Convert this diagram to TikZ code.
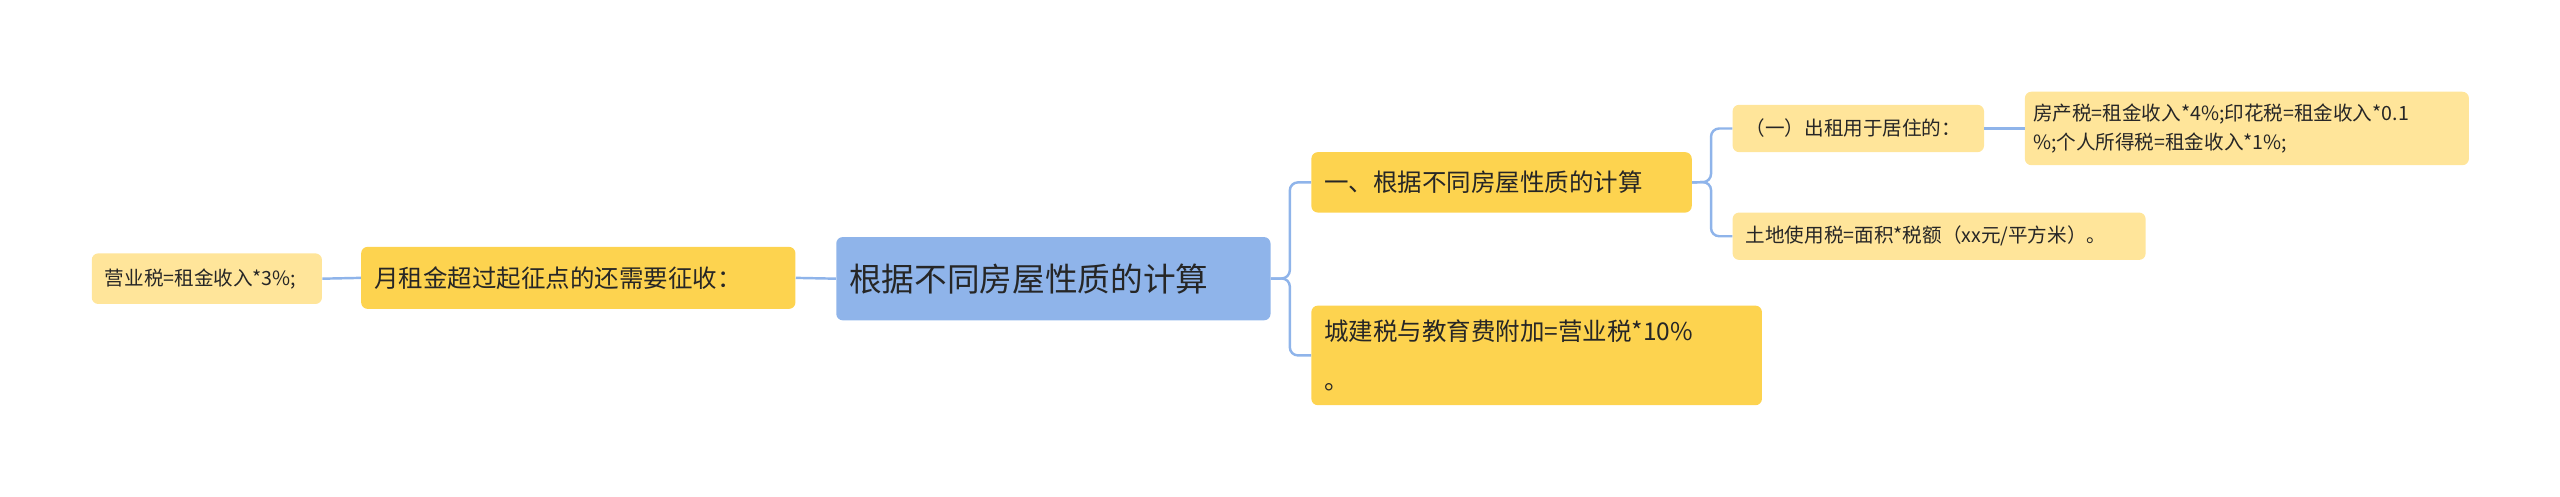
\documentclass[tikz,border=0pt]{standalone}
\usepackage{fontspec}
\setmainfont{Noto Sans CJK SC}
\begin{document}
\begin{tikzpicture}[x=1pt,y=-1pt,
  box/.style={rounded corners=4pt,inner xsep=8pt,inner ysep=0pt,align=left,anchor=north west,text=black!85},
  lvl0/.style={box,fill=blue!35!cyan!20!blue!30,fill={rgb,255:red,143;green,180;blue,234},font=\fontsize{20}{24}\selectfont},
  lvl1/.style={box,fill={rgb,255:red,253;green,211;blue,79},font=\fontsize{15}{30}\selectfont},
  lvl2/.style={box,fill={rgb,255:red,255;green,229;blue,154},font=\fontsize{12}{18}\selectfont},
  conn/.style={draw={rgb,255:red,143;green,180;blue,234},line width=1.5pt,rounded corners=5pt}]
\useasboundingbox (0,0) rectangle (1568,304);
\node[lvl0,minimum width=266pt,minimum height=51pt,text width=250pt] (c) at (512,145) {根据不同房屋性质的计算};
\node[lvl1,minimum width=266pt,minimum height=38pt,text width=250pt] (l1) at (221,151) {月租金超过起征点的还需要征收：};
\node[lvl2,minimum width=141pt,minimum height=31pt,text width=125pt] (l2) at (56,155) {营业税=租金收入*3\%;};
\node[lvl1,minimum width=233pt,minimum height=37pt,text width=217pt] (r1) at (803,93) {一、根据不同房屋性质的计算};
\node[lvl1,minimum width=276pt,minimum height=61pt,text width=260pt] (r2) at (803,187) {城建税与教育费附加=营业税*10\%\\。};
\node[lvl2,minimum width=154pt,minimum height=29pt,text width=138pt] (r1a) at (1061,64) {（一）出租用于居住的：};
\node[lvl2,minimum width=272pt,minimum height=45pt,text width=262pt,inner xsep=5pt] (r1a1) at (1240,56) {房产税=租金收入*4\%;印花税=租金收入*0.1\\\%;个人所得税=租金收入*1\%;};
\node[lvl2,minimum width=253pt,minimum height=29pt,text width=237pt] (r1b) at (1061,130) {土地使用税=面积*税额（xx元/平方米）。};
\draw[conn] (c.east) -- (790,170.5) |- (r1.west);
\draw[conn] (c.east) -- (790,170.5) |- (r2.west);
\draw[conn] (c.west) -- (l1.east);
\draw[conn] (l1.west) -- (l2.east);
\draw[conn] (r1.east) -- (1048,111.5) |- (r1a.west);
\draw[conn] (r1.east) -- (1048,111.5) |- (r1b.west);
\draw[conn] (r1a.east) -- (r1a1.west);
\end{tikzpicture}
\end{document}
